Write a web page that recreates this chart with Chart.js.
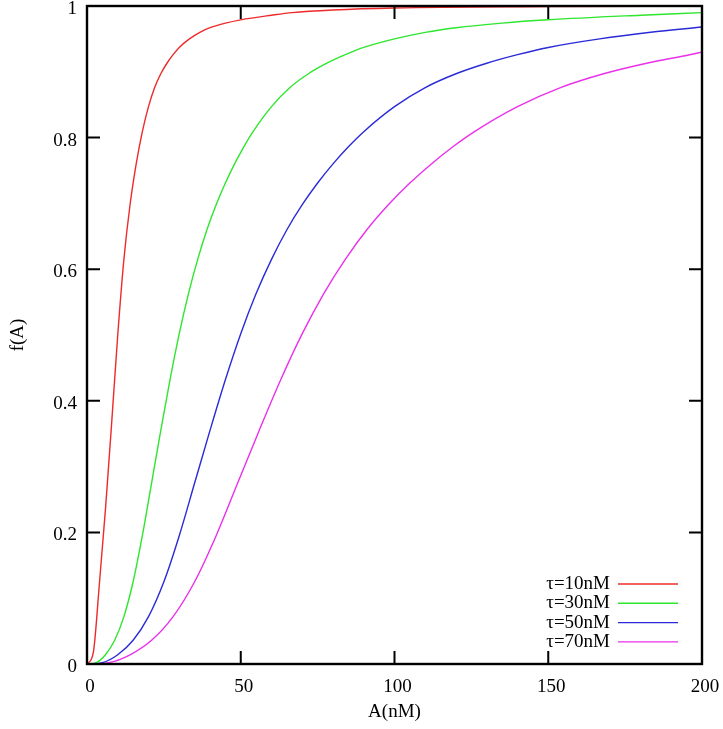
<!DOCTYPE html>
<html>
<head>
<meta charset="utf-8">
<script src="https://cdn.jsdelivr.net/npm/chart.js@4.4.1/dist/chart.umd.min.js"></script>
<style>
body{margin:0;background:#fff;}
#wrap{width:723px;height:729px;}
</style>
</head>
<body>
<div id="wrap"><canvas id="fA"></canvas></div>
<script>
// values, A in nM
var redA = [0, 2, 4, 6, 8, 10, 12, 14, 16, 18, 20, 22, 24, 26, 28, 30, 33.3, 36.7, 40, 45, 50, 60, 66.7, 80, 100, 150, 200];
var redF = [0, 0.016, 0.12, 0.235, 0.365, 0.5, 0.615, 0.698, 0.76, 0.809, 0.847, 0.876, 0.897, 0.913, 0.926, 0.937, 0.95, 0.96, 0.967, 0.974, 0.979, 0.986, 0.99, 0.994, 0.997, 0.999, 1.0];

var greenA = [0, 3, 6, 9, 12, 15, 18, 21, 24, 27, 30, 33, 36, 39, 42, 45, 48, 51, 54, 60, 66, 72, 78, 84, 90, 100, 110, 120, 135, 150, 180, 200];
var greenF = [0, 0.002, 0.014, 0.036, 0.072, 0.125, 0.195, 0.275, 0.355, 0.432, 0.502, 0.563, 0.615, 0.66, 0.698, 0.731, 0.76, 0.786, 0.809, 0.847, 0.876, 0.897, 0.913, 0.926, 0.937, 0.95, 0.96, 0.967, 0.974, 0.979, 0.986, 0.99];

var blueA = [0, 5, 10, 15, 20, 25, 30, 35, 40, 45, 50, 55, 60, 65, 70, 75, 80, 85, 90, 100, 110, 120, 130, 140, 150, 166.7, 183.3, 200];
var blueF = [0, 0.002, 0.014, 0.036, 0.072, 0.125, 0.195, 0.275, 0.355, 0.432, 0.502, 0.563, 0.615, 0.66, 0.698, 0.731, 0.76, 0.786, 0.809, 0.847, 0.876, 0.897, 0.913, 0.926, 0.937, 0.95, 0.96, 0.968];

var magentaA = [0, 7, 14, 21, 28, 35, 42, 49, 56, 63, 70, 77, 84, 91, 98, 105, 112, 119, 126, 140, 154, 168, 182, 196, 200];
var magentaF = [0, 0.002, 0.014, 0.036, 0.072, 0.125, 0.195, 0.275, 0.355, 0.432, 0.502, 0.563, 0.615, 0.66, 0.698, 0.731, 0.76, 0.786, 0.809, 0.847, 0.876, 0.897, 0.913, 0.926, 0.93];

var seriesLabels = ['\u03c4=10nM', '\u03c4=30nM', '\u03c4=50nM', '\u03c4=70nM'];
var seriesColors = ['#ee2a2a', '#2ee62e', '#2a2ad8', '#ea30ea'];

var xTicks = [0, 50, 100, 150, 200];
var yTicks = [0, 0.2, 0.4, 0.6, 0.8, 1];

var FONT = "'Liberation Serif', 'DejaVu Serif', serif";

function toPoints(xs, ys){
	var pts = new Array();
	for(var i=0;i<xs.length;i++){
		pts[i] = {x: xs[i], y: ys[i]};
	}
	return pts;
}

function makeSet(i, xs, ys){
	return {
		label: seriesLabels[i],
		data: toPoints(xs, ys),
		borderColor: seriesColors[i],
		backgroundColor: seriesColors[i],
		borderWidth: 1.4,
		pointRadius: 0,
		fill: false,
		cubicInterpolationMode: 'monotone'
	};
}

// frame with inward ticks on all four sides (gnuplot look)
var framePlugin = {
	id: 'frame',
	afterDatasetsDraw: function(chart){
		var c = chart.ctx;
		var a = chart.chartArea;
		var sx = chart.scales.x, sy = chart.scales.y;
		var len = 13;
		c.save();
		c.strokeStyle = '#000';
		c.lineWidth = 2;
		c.beginPath();
		for(var i=1;i<xTicks.length-1;i++){
			var px = sx.getPixelForValue(xTicks[i]);
			c.moveTo(px, a.bottom); c.lineTo(px, a.bottom - len);
			c.moveTo(px, a.top); c.lineTo(px, a.top + len);
		}
		for(var j=1;j<yTicks.length-1;j++){
			var py = sy.getPixelForValue(yTicks[j]);
			c.moveTo(a.left, py); c.lineTo(a.left + len, py);
			c.moveTo(a.right, py); c.lineTo(a.right - len, py);
		}
		c.stroke();
		c.lineWidth = 2.4;
		c.strokeRect(a.left, a.top, a.right - a.left, a.bottom - a.top);
		c.restore();
	}
};

// legend inside, bottom right: text then sample line
var keyPlugin = {
	id: 'key',
	afterDatasetsDraw: function(chart){
		var c = chart.ctx;
		var a = chart.chartArea;
		c.save();
		c.font = '19px ' + FONT;
		c.textAlign = 'right';
		c.textBaseline = 'middle';
		chart.data.datasets.forEach(function(ds, i){
			var y = a.bottom - 80 + i * 19.3;
			c.fillStyle = '#000';
			c.fillText(ds.label, a.right - 92, y);
			c.strokeStyle = ds.borderColor;
			c.lineWidth = 1.4;
			c.beginPath();
			c.moveTo(a.right - 84, y);
			c.lineTo(a.right - 24, y);
			c.stroke();
		});
		c.restore();
	}
};

new Chart(document.getElementById('fA'), {
	type: 'line',
	data: {
		datasets: [
			makeSet(0, redA, redF),
			makeSet(1, greenA, greenF),
			makeSet(2, blueA, blueF),
			makeSet(3, magentaA, magentaF)
		]
	},
	options: {
		responsive: true,
		maintainAspectRatio: false,
		animation: false,
		layout: { padding: { left: 0, top: 6, right: 21, bottom: 0 } },
		scales: {
			x: {
				type: 'linear',
				min: 0,
				max: 200,
				afterBuildTicks: function(s){ s.ticks = xTicks.map(function(v){ return {value: v}; }); },
				afterFit: function(s){ s.height = 65; s.paddingLeft = 0; s.paddingRight = 0; },
				grid: { display: false, drawTicks: false },
				border: { display: false },
				ticks: { color: '#000', padding: 12, labelOffset: 3, maxRotation: 0, font: { family: FONT, size: 19 },
					callback: function(v){ return String(v); } },
				title: { display: true, text: 'A(nM)', color: '#000', padding: 6, font: { family: FONT, size: 19 } }
			},
			y: {
				min: 0,
				max: 1,
				afterBuildTicks: function(s){ s.ticks = yTicks.map(function(v){ return {value: v}; }); },
				afterFit: function(s){ s.width = 87; s.paddingTop = 0; s.paddingBottom = 0; },
				grid: { display: false, drawTicks: false },
				border: { display: false },
				ticks: { color: '#000', padding: 10, labelOffset: 3, font: { family: FONT, size: 19 },
					callback: function(v){ return String(v); } },
				title: { display: true, text: 'f(A)', color: '#000', padding: 7, font: { family: FONT, size: 19 } }
			}
		},
		plugins: {
			legend: { display: false },
			tooltip: { enabled: false }
		}
	},
	plugins: [framePlugin, keyPlugin]
});
</script>
</body>
</html>
